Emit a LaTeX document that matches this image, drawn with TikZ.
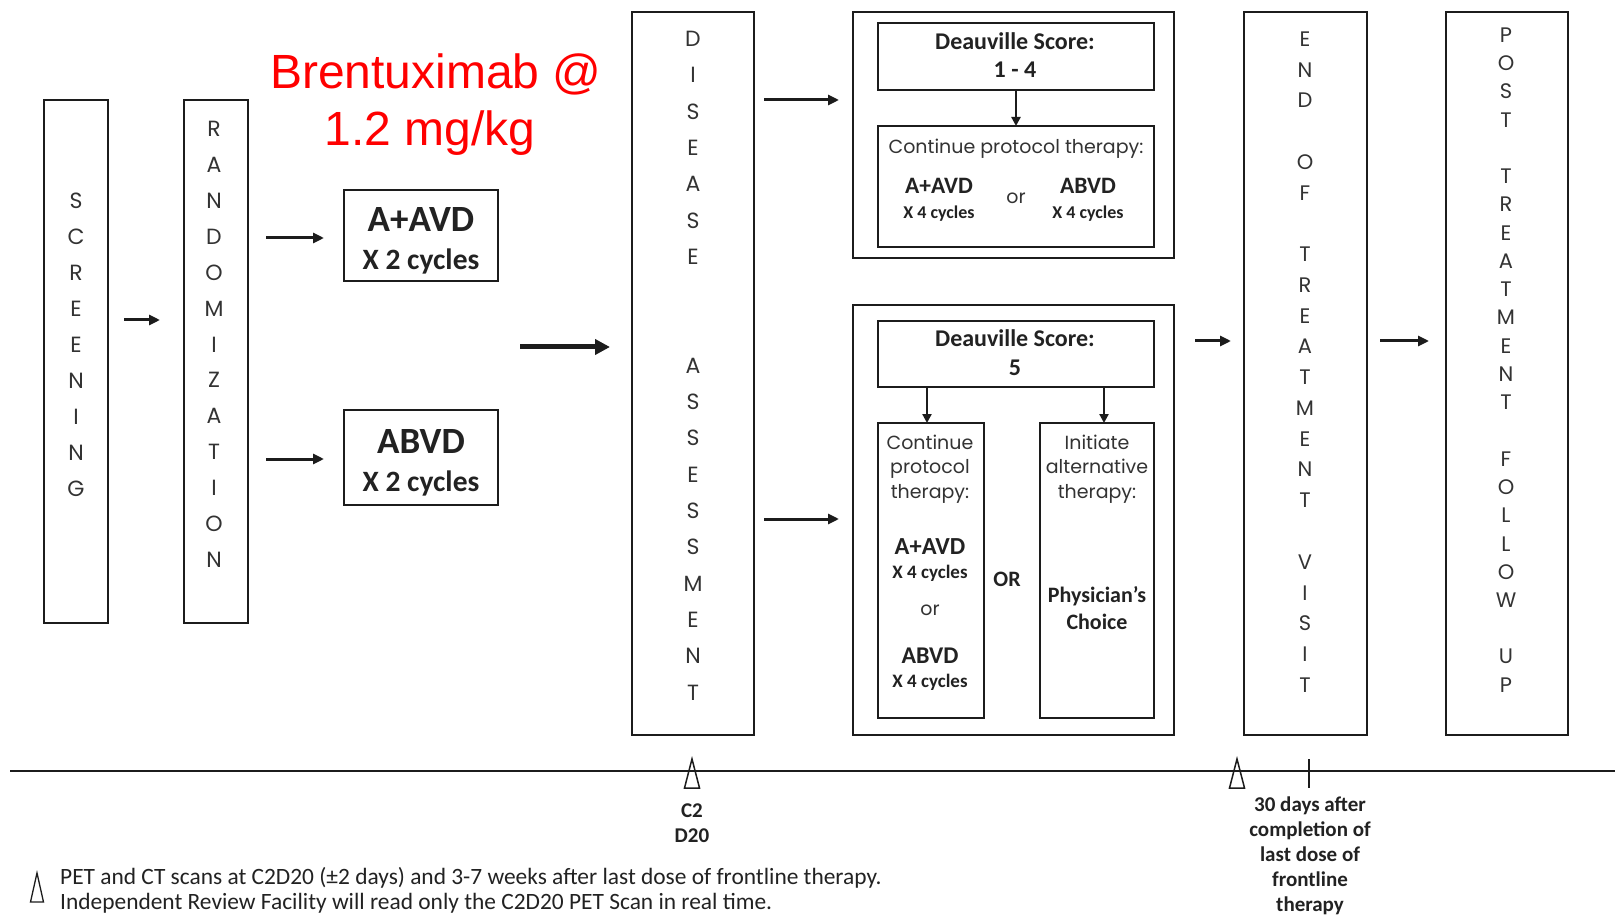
\documentclass[tikz,border=0pt]{standalone}
\usepackage{fontspec}
\setmainfont{Carlito}
\newfontfamily\gothic{Poppins}
\newfontfamily\arialf{Liberation Sans}
\usetikzlibrary{arrows.meta}
\definecolor{ink}{HTML}{1C1C1C}
\definecolor{txt}{HTML}{333333}
\definecolor{boldtxt}{HTML}{222222}
\newcommand\myfs[1]{\fontsize{#1}{#1}\selectfont}
\begin{document}
\begin{tikzpicture}[x=1pt,y=-1pt,
 box/.style={draw=ink,line width=2.8pt,inner sep=0pt,outer sep=0pt},
 ibox/.style={draw=ink,line width=2.2pt,inner sep=0pt,outer sep=0pt},
 letter/.style={font=\gothic\myfs{22},text=txt,inner sep=0pt},
 sletter/.style={font=\gothic\myfs{21},text=txt,inner sep=0pt},
 goth/.style={font=\gothic\myfs{19},text=txt,inner sep=0pt,anchor=base},
 bl/.style={font=\bfseries\myfs{#1},text=boldtxt,inner sep=0pt,anchor=base},
 arr/.style={draw=ink,line width=3pt,-{Triangle[length=11pt,width=10pt]}},
 bigarr/.style={draw=ink,line width=5pt,-{Triangle[length=15pt,width=15pt]}},
 varr/.style={draw=ink,line width=2.5pt,-{Triangle[length=9pt,width=9pt]}},
 tl/.style={draw=ink,line width=1.5pt,line join=miter},
]
\fill[white] (0,0) rectangle (1615,917);
\useasboundingbox (0,0) rectangle (1615,917);

% ---------- boxes
\node[box,minimum width=64pt,minimum height=523pt] (scr) at (76,361.5) {};
\node[box,minimum width=64pt,minimum height=523pt] (rnd) at (216,361.5) {};
\node[ibox,minimum width=154pt,minimum height=91pt] (aavd) at (421,235.5) {};
\node[ibox,minimum width=154pt,minimum height=95pt] (abvd) at (421,457.5) {};
\node[box,minimum width=122pt,minimum height=723pt] (da) at (693,373.5) {};
\node[box,minimum width=321pt,minimum height=246pt] (topo) at (1013.5,135) {};
\node[ibox,minimum width=276pt,minimum height=67pt] (d14) at (1016,56.5) {};
\node[ibox,minimum width=276pt,minimum height=121pt] (cpt) at (1016,186.5) {};
\node[box,minimum width=321pt,minimum height=430pt] (boto) at (1013.5,520) {};
\node[ibox,minimum width=276pt,minimum height=66pt] (d5) at (1016,354) {};
\node[ibox,minimum width=106pt,minimum height=295pt] (cl) at (931,570.5) {};
\node[ibox,minimum width=114pt,minimum height=295pt] (ir) at (1097,570.5) {};
\node[box,minimum width=123pt,minimum height=723pt] (eot) at (1305.5,373.5) {};
\node[box,minimum width=122pt,minimum height=723pt] (ptfu) at (1507,373.5) {};

% ---------- vertical letters
\foreach \l [count=\i from 0] in {S,C,R,E,E,N,I,N,G}
  \node[letter] (scrl\i) at (76,201+36*\i) {\l};
\foreach \l [count=\i from 0] in {R,A,N,D,O,M,I,Z,A,T,I,O,N}
  \node[letter] (rndl\i) at (214,129+35.9*\i) {\l};
\foreach \i/\l in {0/D,1/I,2/S,3/E,4/A,5/S,6/E,9/A,10/S,11/S,12/E,13/S,14/S,15/M,16/E,17/N,18/T}
  \node[letter] (dal\i) at (693,39+36.3*\i) {\l};
\foreach \i/\l in {0/E,1/N,2/D,4/O,5/F,7/T,8/R,9/E,10/A,11/T,12/M,13/E,14/N,15/T,17/V,18/I,19/S,20/I,21/T}
  \node[sletter] (eotl\i) at (1305,39+30.76*\i) {\l};
\foreach \i/\l in {0/P,1/O,2/S,3/T,5/T,6/R,7/E,8/A,9/T,10/M,11/E,12/N,13/T,15/F,16/O,17/L,18/L,19/O,20/W,22/U,23/P}
  \node[sletter] (ptl\i) at (1506,35+28.26*\i) {\l};

% ---------- red title
\node[font=\arialf\myfs{48},text=red,inner sep=0pt,anchor=base] (br1) at (436,89) {Brentuximab @};
\node[font=\arialf\myfs{48},text=red,inner sep=0pt,anchor=base] (br2) at (430,146) {1.2 mg/kg};

% ---------- arm boxes text
\node[bl=37] (aavdt) at (421,232) {A+AVD};
\node[bl=29.5] (aavdc) at (421,270) {X 2 cycles};
\node[bl=37] (abvdt) at (421,453) {ABVD};
\node[bl=29.5] (abvdc) at (421,491) {X 2 cycles};

% ---------- top group text
\node[bl=24] (d14a) at (1015,50) {Deauville Score:};
\node[bl=24] (d14b) at (1015,78) {1 - 4};
\node[goth] (cpta) at (1016,154) {Continue protocol therapy:};
\node[bl=23.5] (cptb) at (939,194) {A+AVD};
\node[bl=18] (cptc) at (939,219) {X 4 cycles};
\node[goth] (cptor) at (1016,204) {or};
\node[bl=23.5] (cptd) at (1088,194) {ABVD};
\node[bl=18] (cpte) at (1088,219) {X 4 cycles};

% ---------- bottom group text
\node[bl=24] (d5a) at (1015,347) {Deauville Score:};
\node[bl=24] (d5b) at (1015,375) {5};
\node[goth] (cl1) at (930,449) {Continue};
\node[goth] (cl2) at (930,473) {protocol};
\node[goth] (cl3) at (930,498) {therapy:};
\node[bl=24.5] (cl4) at (930,554) {A+AVD};
\node[bl=19] (cl5) at (930,578) {X 4 cycles};
\node[goth] (cl6) at (930,615) {or};
\node[bl=24] (cl7) at (930,663) {ABVD};
\node[bl=19] (cl8) at (930,687) {X 4 cycles};
\node[bl=22] (orbig) at (1007,586) {OR};
\node[goth] (ir1) at (1097,449) {Initiate};
\node[goth] (ir2) at (1097,473) {alternative};
\node[goth] (ir3) at (1097,498) {therapy:};
\node[bl=22] (ir4) at (1097,602) {Physician’s};
\node[bl=22] (ir5) at (1097,629) {Choice};

% ---------- connectors
\coordinate (h320) at (0,320);
\coordinate (h238) at (0,238);
\coordinate (h459) at (0,459);
\coordinate (h347) at (0,347);
\coordinate (h100) at (0,100);
\coordinate (h519) at (0,519);
\coordinate (h341) at (0,341);
\draw[arr,shorten <=16pt,shorten >=24pt] (scr.east |- h320) -- (rnd.west |- h320);
\draw[arr,shorten <=18pt,shorten >=20pt] (rnd.east |- h238) -- (aavd.west |- h238);
\draw[arr,shorten <=18pt,shorten >=20pt] (rnd.east |- h459) -- (abvd.west |- h459);
\draw[bigarr,shorten <=22pt,shorten >=22pt] (aavd.east |- h347) -- (da.west |- h347);
\draw[arr,shorten <=10pt,shorten >=14pt] (da.east |- h100) -- (topo.west |- h100);
\draw[arr,shorten <=10pt,shorten >=14pt] (da.east |- h519) -- (boto.west |- h519);
\draw[arr,shorten <=21pt,shorten >=13pt] (boto.east |- h341) -- (eot.west |- h341);
\draw[arr,shorten <=13pt,shorten >=17pt] (eot.east |- h341) -- (ptfu.west |- h341);
\draw[varr] (d14.south) -- (cpt.north);
\draw[varr] ([xshift=-4pt]cl.north |- d5.south) -- ([xshift=-4pt]cl.north);
\draw[varr] ([xshift=7pt]ir.north |- d5.south) -- ([xshift=7pt]ir.north);

% ---------- timeline
\coordinate (tlL) at (10,771);
\coordinate (tlR) at (1615,771);
\draw[tl] (tlL) -- (tlR);
\draw[tl] (684.5,788) -- (692,759) -- (699.5,788) -- cycle;
\draw[tl] (1229.5,788) -- (1237,759) -- (1244.5,788) -- cycle;
\draw[tl] (1309,759) -- (1309,788);
\node[bl=21] (c2) at (692,817) {C2};
\node[bl=21] (d20) at (692,842) {D20};
\node[bl=21] (t1) at (1310,811) {30 days after};
\node[bl=21] (t2) at (1310,836) {completion of};
\node[bl=21] (t3) at (1310,861) {last dose of};
\node[bl=21] (t4) at (1310,886) {frontline};
\node[bl=21] (t5) at (1310,911) {therapy};

% ---------- legend
\draw[draw=ink,line width=1.3pt,line join=miter] (30.5,902) -- (37,873) -- (43.5,902) -- cycle;
\node[font=\myfs{23.4},text=boldtxt,inner sep=0pt,anchor=base west] (leg1) at (60,884) {PET and CT scans at C2D20 (±2 days) and 3-7 weeks after last dose of frontline therapy.};
\node[font=\myfs{23.4},text=boldtxt,inner sep=0pt,anchor=base west] (leg2) at (60,909) {Independent Review Facility will read only the C2D20 PET Scan in real time.};
\end{tikzpicture}
\end{document}
